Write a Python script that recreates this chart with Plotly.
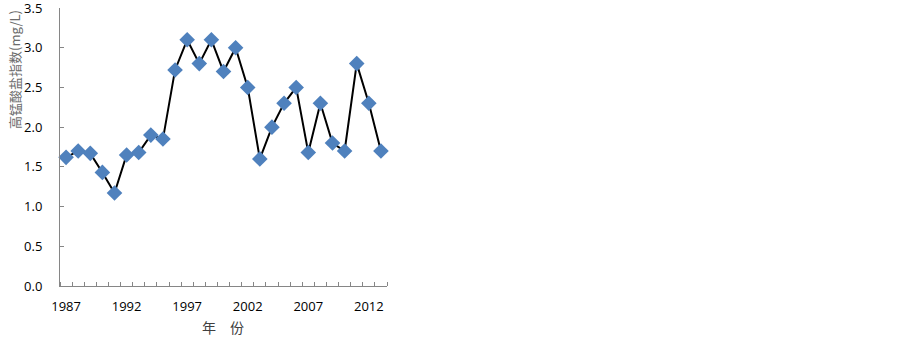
import plotly.graph_objects as go

years = list(range(1987, 2014))
values = [1.62, 1.70, 1.67, 1.43, 1.17, 1.65, 1.68, 1.90, 1.85, 2.72,
          3.10, 2.80, 3.10, 2.70, 3.00, 2.50, 1.60, 2.00, 2.30, 2.50,
          1.68, 2.30, 1.80, 1.70, 2.80, 2.30, 1.70]
x_labels = [1987, 1992, 1997, 2002, 2007, 2012]
y_ticks = [0.0, 0.5, 1.0, 1.5, 2.0, 2.5, 3.0, 3.5]
y_title = "高锰酸盐指数(mg/L)"
x_title = "年　份"

boundaries = [y - 0.5 for y in years] + [years[-1] + 0.5]

fig = go.Figure()
fig.add_trace(go.Scatter(
    x=years, y=values, mode="lines+markers",
    line=dict(color="black", width=2),
    marker=dict(symbol="diamond", size=12, color="#4F81BD",
                line=dict(width=0)),
    cliponaxis=False,
))

tick_font = dict(family="Open Sans, DejaVu Sans, sans-serif", size=13, color="#000000")

fig.update_layout(
    width=903, height=339,
    margin=dict(l=60, r=516, t=8, b=53, autoexpand=False),
    paper_bgcolor="white", plot_bgcolor="white",
    showlegend=False,
    xaxis=dict(
        range=[boundaries[0], boundaries[-1]], automargin=False,
        tickvals=x_labels, ticktext=[str(v) for v in x_labels],
        ticks="", showgrid=False, zeroline=False,
        showline=True, linecolor="#868686", linewidth=1,
        tickfont=tick_font, ticklabelstandoff=8, ticklabeloverflow="allow",
        minor=dict(tickvals=boundaries, ticks="inside", ticklen=4,
                   tickcolor="#868686", tickwidth=1, showgrid=False),
    ),
    yaxis=dict(
        range=[0, 3.5], tickvals=y_ticks, automargin=False,
        ticktext=[f"{v:.1f}" for v in y_ticks],
        ticks="inside", ticklen=4, tickcolor="#868686",
        showgrid=False, zeroline=False,
        showline=True, linecolor="#868686", linewidth=1,
        tickfont=tick_font, ticklabelstandoff=14, ticklabeloverflow="allow",
    ),
    annotations=[
        dict(text=y_title, xref="paper", yref="paper", x=-0.1376, y=0.777,
             textangle=-90, showarrow=False,
             font=dict(family="Noto Sans CJK SC, sans-serif", size=13, color="#6b6b6b"),
             xanchor="center", yanchor="middle"),
        dict(text=x_title, xref="paper", yref="paper", x=0.4985, y=-0.1475,
             showarrow=False,
             font=dict(family="Noto Sans CJK SC, sans-serif", size=14, color="#404040"),
             xanchor="center", yanchor="middle"),
    ],
)

fig.write_html("out.html", config={"displayModeBar": False},
               post_script="document.body.style.margin='0';")
